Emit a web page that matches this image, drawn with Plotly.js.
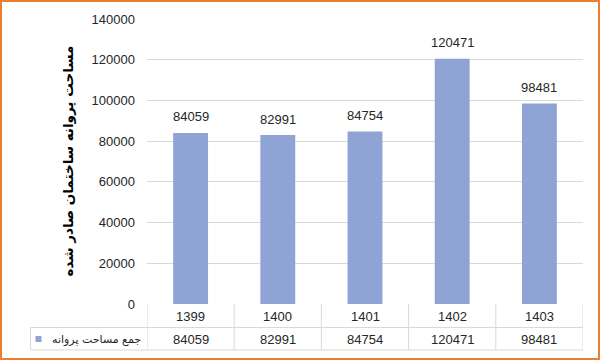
<!DOCTYPE html>
<html>
<head>
<meta charset="utf-8">
<script src="https://cdn.plot.ly/plotly-3.0.1.min.js"></script>
<style>
  html, body { margin: 0; padding: 0; background: #fff; }
  #wrap { position: relative; width: 600px; height: 360px; }
  #chart { width: 600px; height: 360px; }
  #frame { position: absolute; left: 0; top: 0; width: 600px; height: 360px; box-sizing: border-box;
           border: 2px solid #ED7D31; pointer-events: none; }
</style>
</head>
<body>
<div id="wrap"><div id="chart"></div><div id="frame"></div></div>
<script>
const years = ['1399', '1400', '1401', '1402', '1403'];
const areaValues = [84059, 82991, 84754, 120471, 98481];
const seriesName = 'جمع مساحت پروانه';
const yTitle = 'مساحت پروانه ساختمان صادر شده';
const yTicks = [0, 20000, 40000, 60000, 80000, 100000, 120000, 140000];

const barColor = 'rgb(143,163,212)';
const gridColor = '#d9d9d9';
const textColor = '#262626';
const font = 'Liberation Sans, Arial, DejaVu Sans, sans-serif';

const plotH = 285;
const plotW = 436;
const px2py = p => -p / plotH;        // pixels below axis -> paper y
const px2px = p => p / plotW;         // pixels right of plot-left -> paper x

const row1Mid = px2py(12);
const rowSep = px2py(23.5);
const row2Mid = px2py(35);
const tableBottom = px2py(46);
const leftEdge = px2px(30.5 - 147);

const shapes = [];
for (let i = 0; i <= years.length; i++) {
  shapes.push({type: 'line', xref: 'x', yref: 'paper', x0: i - 0.5, x1: i - 0.5,
    y0: 0, y1: tableBottom, line: {color: gridColor, width: 1}});
}
shapes.push({type: 'line', xref: 'paper', yref: 'paper', x0: leftEdge, x1: leftEdge,
  y0: rowSep, y1: tableBottom, line: {color: gridColor, width: 1}});
shapes.push({type: 'line', xref: 'paper', yref: 'paper', x0: leftEdge, x1: 1,
  y0: rowSep, y1: rowSep, line: {color: gridColor, width: 1}});
shapes.push({type: 'line', xref: 'paper', yref: 'paper', x0: leftEdge, x1: 1,
  y0: tableBottom, y1: tableBottom, line: {color: gridColor, width: 1}});
shapes.push({type: 'rect', xref: 'paper', yref: 'paper',
  x0: px2px(35.5 - 147), x1: px2px(41.5 - 147), y0: px2py(32), y1: px2py(38),
  fillcolor: barColor, line: {width: 0}});

const annotations = [];
years.forEach((yr, i) => {
  annotations.push({x: i, xref: 'x', y: row1Mid, yref: 'paper', text: yr, showarrow: false,
    xanchor: 'center', yanchor: 'middle', font: {family: font, size: 13, color: textColor}});
  annotations.push({x: i, xref: 'x', y: row2Mid, yref: 'paper', text: String(areaValues[i]), showarrow: false,
    xanchor: 'center', yanchor: 'middle', font: {family: font, size: 13, color: textColor}});
  annotations.push({x: i, xref: 'x', y: areaValues[i], yref: 'y', text: String(areaValues[i]), showarrow: false,
    xanchor: 'center', yanchor: 'middle', yshift: 16, font: {family: font, size: 13, color: textColor}});
});
annotations.push({x: px2px(143 - 147), xref: 'paper', y: row2Mid, yref: 'paper', text: seriesName,
  showarrow: false, xanchor: 'right', yanchor: 'middle',
  font: {family: 'DejaVu Sans, sans-serif', size: 11, color: textColor}});
annotations.push({x: px2px(67 - 147), xref: 'paper', y: 0.5, yref: 'paper', text: '<b>' + yTitle + '</b>',
  showarrow: false, xanchor: 'center', yanchor: 'middle', textangle: -90,
  font: {family: 'DejaVu Sans, sans-serif', size: 13.5, color: '#000'}});

const trace = {
  type: 'bar', x: years, y: areaValues, name: seriesName,
  marker: {color: barColor}, width: 0.4, hoverinfo: 'x+y'
};

const layout = {
  width: 600, height: 360,
  margin: {l: 147, r: 17, t: 19, b: 56},
  paper_bgcolor: '#fff', plot_bgcolor: '#fff',
  showlegend: false,
  xaxis: {type: 'category', showticklabels: false, showgrid: false, zeroline: false,
    showline: false, ticks: '', range: [-0.5, 4.5], fixedrange: true},
  yaxis: {range: [0, 140000], tickvals: yTicks, ticktext: yTicks.map(String),
    showgrid: true, gridcolor: gridColor, gridwidth: 1, zeroline: false, showline: false,
    ticks: '', ticklabelstandoff: 11, tickfont: {family: font, size: 13, color: textColor}, fixedrange: true},
  shapes: shapes,
  annotations: annotations,
  font: {family: font}
};

Plotly.newPlot('chart', [trace], layout, {displayModeBar: false, staticPlot: true});
</script>
</body>
</html>
